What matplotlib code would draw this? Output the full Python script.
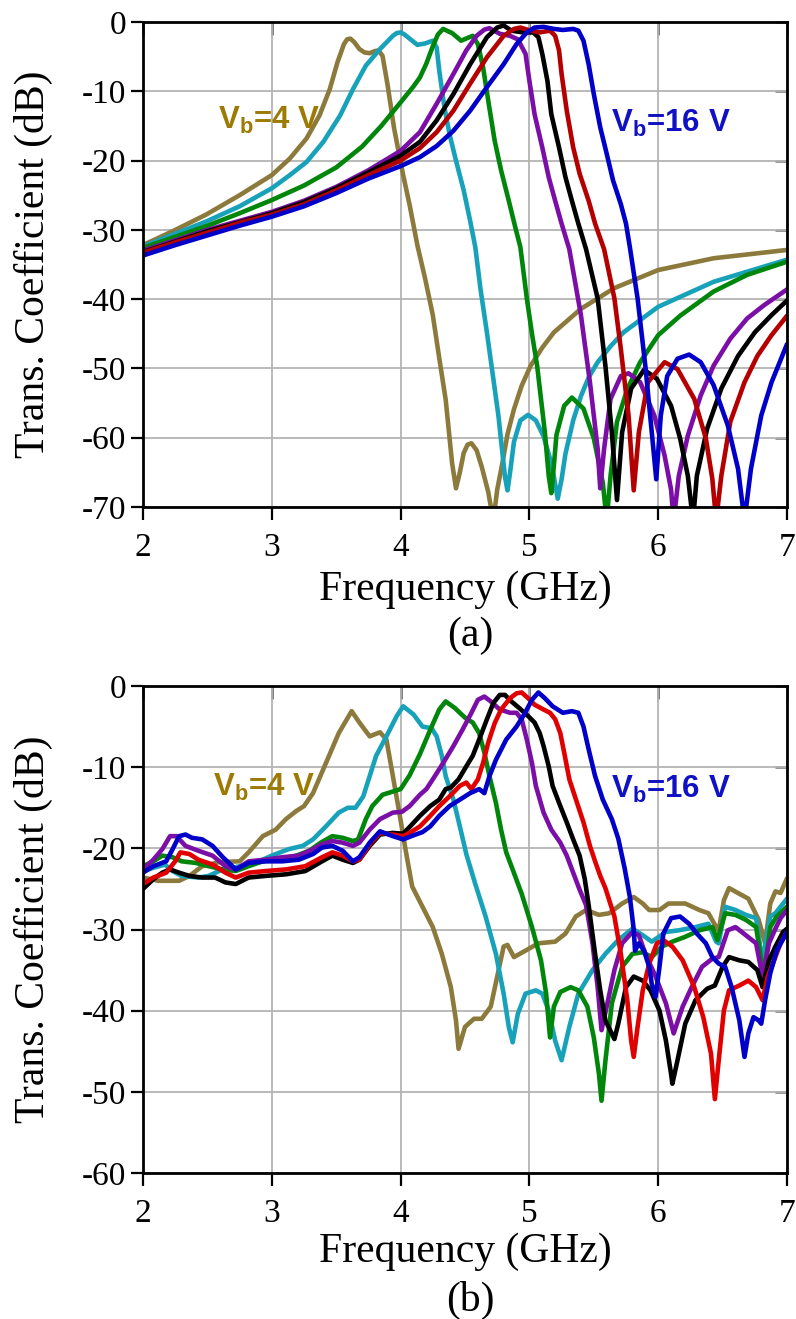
import matplotlib
matplotlib.use("Agg")
import matplotlib.pyplot as plt

# ---------------- (a) simulated transmission, Vb = 4 ... 16 V ----------------
a_f_4 = [2.0, 2.23, 2.49, 2.75, 3.0, 3.14, 3.27, 3.37, 3.45, 3.51, 3.56, 3.585, 3.61, 3.64, 3.68, 3.72, 3.76, 3.80,
         3.83, 3.86, 3.90, 3.95, 4.02, 4.07, 4.13, 4.19, 4.25, 4.30, 4.35, 4.40, 4.43, 4.46, 4.49, 4.52, 4.55,
         4.59, 4.63, 4.68, 4.72, 4.75, 4.79, 4.83, 4.88, 4.94, 5.01, 5.10, 5.19, 5.40, 5.66, 6.0, 6.43, 7.0]
a_s_4 = [-32.2, -30.2, -27.8, -25.0, -22.1, -19.7, -16.8, -13.5, -9.7, -5.8, -3.2, -2.5, -2.4, -2.9, -3.9, -4.4, -4.5, -4.2,
         -4.1, -4.9, -9.2, -15.4, -22.1, -26.4, -32.2, -37.0, -42.3, -48.5, -54.5, -63.7, -67.3, -65.0, -62.2, -61.0, -60.8,
         -61.8, -64.2, -67.8, -72.0, -67.5, -63.7, -59.5, -55.9, -52.5, -49.6, -47.0, -44.8, -41.4, -38.4, -35.8, -34.1, -32.9]

a_f_6 = [2.0, 2.23, 2.49, 2.75, 3.0, 3.14, 3.27, 3.40, 3.53, 3.63, 3.73, 3.84, 3.94, 3.97, 4.0, 4.03, 4.07, 4.13,
         4.19, 4.25, 4.28, 4.30, 4.34, 4.38, 4.43, 4.49, 4.54, 4.58, 4.62, 4.67, 4.72, 4.76, 4.81, 4.83,
         4.85, 4.88, 4.93, 4.99, 5.05, 5.11, 5.16, 5.19, 5.22, 5.25, 5.28, 5.34, 5.40, 5.46, 5.53, 5.63, 5.73, 6.0,
         6.43, 7.0]
a_s_6 = [-32.4, -30.7, -28.8, -26.6, -24.0, -22.1, -20.2, -17.3, -13.5, -9.7, -6.3, -3.9, -2.0, -1.6, -1.5, -1.8, -2.4, -3.3,
         -3.1, -2.7, -3.7, -7.0, -12.3, -16.2, -20.0, -24.3, -28.7, -32.5, -38.5, -44.8, -51.5, -56.9, -65.6, -67.6,
         -65.0, -60.6, -57.5, -56.7, -57.5, -59.8, -63.0, -65.6, -68.8, -66.0, -62.3, -57.5, -54.0, -51.3, -49.1, -46.8, -44.8, -41.1,
         -37.5, -34.3]

a_f_8 = [2.0, 2.25, 2.5, 2.75, 3.0, 3.25, 3.5, 3.7, 3.85, 4.0, 4.1, 4.15, 4.2, 4.25, 4.29, 4.33,
         4.40, 4.47, 4.52, 4.56, 4.60, 4.64, 4.68, 4.73, 4.78, 4.84, 4.89, 4.93, 4.98, 5.02, 5.06, 5.12,
         5.15, 5.17, 5.19, 5.21, 5.27, 5.33, 5.42, 5.50, 5.57, 5.60, 5.63, 5.68, 5.76, 5.86, 6.0, 6.17,
         6.43, 6.69, 7.0]
a_s_8 = [-32.6, -31.0, -29.4, -27.6, -25.7, -23.6, -21.0, -18.0, -15.0, -11.6, -9.3, -8.0, -6.0, -3.5, -1.8, -1.0,
         -1.6, -2.7, -2.3, -2.0, -3.2, -6.5, -11.3, -17.1, -21.4, -25.8, -29.6, -32.5, -39.9, -45.0, -49.6, -59.2,
         -65.5, -68.0, -64.0, -59.6, -55.4, -54.2, -55.8, -60.1, -66.5, -72.0, -65.5, -57.7, -53.0, -49.1, -45.2, -42.4,
         -38.9, -36.5, -34.6]

a_f_10 = [2.0, 2.25, 2.5, 2.75, 3.0, 3.25, 3.5, 3.75, 4.0, 4.15, 4.28, 4.41, 4.51, 4.59, 4.65, 4.69,
          4.77, 4.85, 4.91, 4.97, 5.0, 5.04, 5.10, 5.15, 5.20, 5.25, 5.31, 5.40, 5.47, 5.53, 5.55, 5.58,
          5.63, 5.71, 5.77, 5.86, 5.97, 6.05, 6.10, 6.12, 6.16, 6.23, 6.33, 6.43, 6.56, 6.69, 6.82, 7.0]
a_s_10 = [-33.0, -31.5, -30.0, -28.7, -27.4, -25.8, -23.8, -21.4, -18.6, -15.9, -11.8, -7.5, -4.1, -2.0, -1.1, -0.9,
          -1.7, -2.0, -2.5, -4.6, -8.5, -13.3, -18.1, -22.4, -25.8, -29.1, -32.8, -42.3, -52.0, -61.6, -67.3, -61.6,
          -54.4, -51.1, -50.7, -52.0, -56.8, -62.6, -67.5, -72.0, -65.5, -59.7, -53.9, -49.6, -45.7, -42.8, -40.9, -38.6]

a_f_12 = [2.0, 2.25, 2.5, 2.75, 3.0, 3.25, 3.5, 3.75, 4.0, 4.15, 4.28, 4.41, 4.54, 4.67, 4.75, 4.80,
          4.86, 4.95, 5.03, 5.07, 5.10, 5.14, 5.17, 5.23, 5.28, 5.33, 5.38, 5.44, 5.53, 5.59, 5.64, 5.68,
          5.72, 5.79, 5.89, 5.99, 6.10, 6.17, 6.23, 6.27, 6.30, 6.38, 6.49, 6.62, 6.75, 6.88, 7.0]
a_s_12 = [-33.2, -31.7, -30.2, -28.9, -27.6, -26.0, -24.0, -21.7, -19.3, -17.3, -14.2, -10.4, -6.1, -2.2, -0.8, -0.5,
          -1.25, -1.5, -1.5, -2.2, -4.6, -8.5, -13.3, -18.1, -22.4, -25.8, -29.1, -32.8, -39.9, -49.6, -59.2, -69.0,
          -59.2, -52.9, -50.2, -51.5, -55.4, -60.1, -65.5, -72.0, -65.5, -58.7, -52.9, -48.2, -44.8, -42.3, -40.2]

a_f_14 = [2.0, 2.25, 2.5, 2.75, 3.0, 3.25, 3.5, 3.75, 4.0, 4.15, 4.28, 4.41, 4.54, 4.67, 4.80, 4.88,
          4.93, 5.0, 5.08, 5.16, 5.20, 5.23, 5.25, 5.29, 5.34, 5.39, 5.46, 5.51, 5.58, 5.66, 5.71, 5.77,
          5.81, 5.85, 5.92, 6.05, 6.15, 6.28, 6.37, 6.42, 6.45, 6.49, 6.56, 6.67, 6.77, 6.88, 7.0]
a_s_14 = [-33.3, -31.8, -30.4, -29.0, -27.8, -26.3, -24.3, -22.1, -20.0, -18.2, -15.9, -12.8, -8.9, -5.1, -2.0, -1.0,
          -0.8, -1.2, -1.5, -1.25, -2.0, -4.1, -7.5, -12.8, -18.1, -21.9, -25.8, -29.1, -32.8, -39.9, -47.2, -56.8,
          -67.6, -59.2, -52.0, -49.1, -50.1, -54.4, -60.1, -65.9, -72.0, -65.5, -57.7, -52.0, -48.2, -45.2, -42.4]

a_f_16 = [2.0, 2.25, 2.5, 2.75, 3.0, 3.25, 3.5, 3.75, 4.0, 4.15, 4.28, 4.41, 4.54, 4.67, 4.80, 4.90,
          4.98, 5.04, 5.11, 5.19, 5.26, 5.34, 5.38, 5.42, 5.46, 5.50, 5.55, 5.60, 5.65, 5.71, 5.75, 5.78,
          5.84, 5.90, 5.95, 5.985, 6.02, 6.07, 6.15, 6.24, 6.33, 6.43, 6.54, 6.62, 6.67, 6.72, 6.80, 6.88,
          7.0]
a_s_16 = [-33.7, -32.2, -30.8, -29.4, -28.1, -26.6, -24.7, -22.6, -20.8, -19.5, -17.9, -15.7, -12.8, -9.4, -6.1, -3.2,
          -1.5, -0.8, -0.7, -1.0, -1.15, -1.0, -1.25, -2.7, -6.1, -10.4, -15.2, -19.0, -22.9, -26.3, -29.1, -32.5,
          -39.9, -49.6, -59.2, -66.0, -56.8, -51.1, -48.6, -48.0, -49.1, -52.4, -58.2, -64.5, -72.0, -64.5, -56.8, -52.0,
          -46.5]

# ---------------- (b) measured transmission ----------------
b_f_4 = [2.0, 2.12, 2.28, 2.36, 2.46, 2.59, 2.75, 2.82, 2.93, 3.03, 3.11, 3.19, 3.25, 3.32, 3.42, 3.52,
         3.62, 3.68, 3.76, 3.84, 3.89, 3.94, 3.99, 4.04, 4.09, 4.17, 4.25, 4.32, 4.39, 4.43, 4.45, 4.50,
         4.57, 4.63, 4.70, 4.75, 4.80, 4.83, 4.88, 4.97, 5.07, 5.20, 5.28, 5.36, 5.44, 5.54, 5.62, 5.72,
         5.81, 5.88, 5.93, 6.01, 6.08, 6.21, 6.32, 6.39, 6.45, 6.47, 6.51, 6.55, 6.63, 6.70, 6.78, 6.83,
         6.87, 6.91, 6.95, 7.0]
b_s_4 = [-23.6, -24.0, -24.0, -23.4, -22.2, -21.7, -21.6, -20.5, -18.5, -17.7, -16.4, -15.4, -14.8, -13.2, -9.5, -5.8,
         -3.1, -4.5, -6.2, -5.7, -6.6, -11.1, -15.6, -20.3, -24.7, -27.2, -29.7, -33.0, -37.1, -41.2, -44.7, -42.0,
         -41.0, -41.0, -39.5, -35.8, -32.1, -31.9, -33.4, -32.6, -31.7, -31.5, -30.5, -28.4, -27.6, -28.2, -28.0, -26.8,
         -26.0, -26.8, -27.6, -27.6, -26.8, -26.8, -27.6, -28.0, -29.7, -30.1, -26.4, -24.9, -25.6, -26.2, -28.8, -31.7,
         -26.8, -25.3, -25.5, -23.7]

b_f_6 = [2.0, 2.08, 2.17, 2.23, 2.30, 2.43, 2.51, 2.59, 2.75, 2.90, 3.0, 3.13, 3.24, 3.32, 3.42, 3.52,
         3.59, 3.65, 3.71, 3.76, 3.81, 3.89, 3.97, 4.02, 4.10, 4.17, 4.24, 4.28, 4.32, 4.35, 4.41, 4.46,
         4.51, 4.58, 4.66, 4.74, 4.80, 4.84, 4.87, 4.91, 4.97, 5.05, 5.10, 5.15, 5.20, 5.25, 5.31, 5.38,
         5.49, 5.59, 5.69, 5.80, 5.88, 5.95, 6.06, 6.16, 6.29, 6.39, 6.45, 6.47, 6.52, 6.60, 6.68, 6.76,
         6.81, 6.87, 6.91, 6.95, 7.0]
b_s_6 = [-22.8, -22.4, -22.0, -22.8, -23.4, -23.6, -23.4, -22.8, -22.2, -21.6, -20.9, -20.1, -19.7, -18.9, -17.3, -15.6,
         -15.0, -15.0, -13.6, -11.1, -8.6, -6.2, -3.7, -2.5, -3.5, -5.0, -5.2, -6.2, -8.6, -11.1, -14.0, -17.3,
         -20.7, -24.4, -28.4, -33.0, -37.9, -42.0, -43.9, -40.4, -37.9, -37.5, -37.9, -40.0, -43.7, -46.1, -42.0, -37.9,
         -35.0, -33.0, -31.3, -29.9, -30.7, -31.5, -30.3, -30.1, -29.7, -29.3, -31.5, -31.7, -27.2, -27.6, -28.2, -28.6,
         -34.0, -28.4, -28.0, -27.2, -26.2]

b_f_8 = [2.0, 2.08, 2.15, 2.23, 2.30, 2.41, 2.51, 2.62, 2.72, 2.82, 2.93, 3.06, 3.19, 3.29, 3.38, 3.47,
         3.55, 3.63, 3.67, 3.73, 3.78, 3.86, 3.94, 4.0, 4.07, 4.15, 4.23, 4.30, 4.35, 4.42, 4.50, 4.56,
         4.61, 4.65, 4.69, 4.74, 4.78, 4.82, 4.87, 4.94, 5.02, 5.09, 5.13, 5.16, 5.19, 5.24, 5.32, 5.38,
         5.45, 5.50, 5.54, 5.56, 5.59, 5.64, 5.72, 5.80, 5.88, 5.95, 6.03, 6.11, 6.21, 6.32, 6.42, 6.46,
         6.52, 6.60, 6.68, 6.76, 6.82, 6.87, 6.92, 7.0]
b_s_8 = [-22.2, -21.6, -20.9, -21.1, -21.6, -21.8, -22.2, -22.6, -22.8, -22.2, -21.6, -21.4, -20.9, -20.3, -19.3, -18.5,
         -18.7, -19.1, -18.9, -16.4, -14.8, -13.4, -13.0, -12.7, -11.0, -8.4, -5.4, -2.9, -1.9, -2.7, -3.9, -4.5,
         -5.8, -8.2, -11.1, -14.4, -17.7, -20.5, -22.6, -25.6, -29.7, -33.8, -37.9, -43.3, -39.5, -37.7, -37.1, -37.5,
         -39.5, -43.3, -47.8, -51.1, -46.2, -39.1, -34.6, -33.0, -32.8, -33.4, -32.1, -31.5, -30.9, -30.1, -29.7, -31.3,
         -28.0, -28.2, -28.8, -29.7, -35.8, -29.7, -28.4, -27.2]

b_f_10 = [2.0, 2.08, 2.15, 2.21, 2.26, 2.33, 2.43, 2.54, 2.64, 2.72, 2.82, 2.95, 3.08, 3.21, 3.32, 3.39,
          3.47, 3.55, 3.63, 3.68, 3.76, 3.84, 3.94, 4.01, 4.07, 4.15, 4.20, 4.25, 4.33, 4.41, 4.48, 4.55,
          4.60, 4.65, 4.70, 4.77, 4.85, 4.90, 4.94, 4.98, 5.02, 5.05, 5.11, 5.17, 5.24, 5.29, 5.34, 5.39,
          5.44, 5.49, 5.53, 5.56, 5.60, 5.66, 5.72, 5.80, 5.85, 5.90, 5.98, 6.06, 6.12, 6.19, 6.26, 6.34,
          6.42, 6.47, 6.54, 6.60, 6.68, 6.76, 6.81, 6.86, 6.91, 6.95, 7.0]
b_s_10 = [-22.6, -21.4, -20.1, -18.5, -18.5, -19.7, -20.3, -20.9, -22.2, -22.6, -21.6, -21.4, -21.1, -20.9, -20.1, -19.5,
          -19.1, -19.3, -19.7, -19.3, -17.7, -16.4, -15.6, -15.5, -14.8, -13.4, -12.7, -11.5, -9.5, -7.4, -5.4, -3.3,
          -1.7, -1.3, -1.9, -2.9, -3.3, -3.3, -4.1, -6.6, -9.5, -12.3, -15.6, -17.7, -19.3, -20.9, -23.0, -25.1,
          -27.0, -31.7, -37.1, -42.4, -39.5, -35.0, -31.7, -30.3, -30.7, -33.0, -35.8, -39.1, -42.8, -39.5, -37.1, -34.6,
          -33.6, -33.4, -30.1, -29.7, -30.7, -31.7, -35.8, -31.7, -29.9, -28.6, -27.6]

b_f_12 = [2.0, 2.08, 2.15, 2.21, 2.28, 2.36, 2.46, 2.56, 2.64, 2.72, 2.82, 2.95, 3.11, 3.26, 3.39, 3.47,
          3.55, 3.63, 3.68, 3.76, 3.84, 3.94, 4.02, 4.08, 4.15, 4.23, 4.30, 4.35, 4.39, 4.45, 4.51, 4.56,
          4.61, 4.67, 4.72, 4.77, 4.81, 4.86, 4.92, 4.99, 5.04, 5.08, 5.11, 5.15, 5.18, 5.24, 5.29, 5.34,
          5.39, 5.43, 5.46, 5.51, 5.55, 5.59, 5.66, 5.69, 5.75, 5.81, 5.88, 5.94, 6.01, 6.06, 6.10, 6.11,
          6.15, 6.21, 6.29, 6.38, 6.44, 6.50, 6.55, 6.63, 6.70, 6.77, 6.81, 6.86, 6.91, 6.97, 7.0]
b_s_12 = [-25.0, -23.8, -23.0, -22.6, -23.0, -23.4, -23.6, -23.6, -24.2, -24.4, -23.6, -23.4, -23.2, -22.8, -21.6, -20.9,
          -21.4, -21.8, -21.4, -19.7, -18.3, -18.1, -18.2, -17.2, -16.0, -14.8, -14.0, -12.7, -12.5, -11.5, -9.9, -8.6,
          -6.6, -4.1, -2.1, -1.1, -1.1, -1.9, -2.7, -3.7, -4.5, -5.8, -7.4, -9.9, -12.3, -14.8, -16.8, -18.9,
          -20.9, -23.8, -27.0, -33.0, -37.5, -41.2, -43.5, -41.6, -37.1, -35.8, -36.3, -37.5, -40.0, -43.7, -47.8, -49.0,
          -46.1, -41.6, -38.7, -37.3, -36.9, -34.6, -33.4, -33.8, -34.0, -35.0, -37.1, -33.8, -32.1, -30.3, -29.9]

b_f_14 = [2.0, 2.08, 2.18, 2.25, 2.29, 2.36, 2.43, 2.54, 2.64, 2.72, 2.82, 2.95, 3.11, 3.26, 3.39, 3.47,
          3.55, 3.63, 3.68, 3.76, 3.84, 3.94, 4.02, 4.08, 4.15, 4.23, 4.30, 4.38, 4.46, 4.51, 4.55, 4.60,
          4.64, 4.68, 4.73, 4.78, 4.85, 4.90, 4.94, 4.99, 5.04, 5.11, 5.16, 5.20, 5.24, 5.27, 5.31, 5.37,
          5.42, 5.47, 5.51, 5.55, 5.59, 5.66, 5.71, 5.76, 5.79, 5.81, 5.84, 5.88, 5.93, 5.99, 6.04, 6.11,
          6.19, 6.28, 6.35, 6.41, 6.44, 6.47, 6.51, 6.55, 6.63, 6.70, 6.76, 6.81, 6.85, 6.90, 6.95, 7.0]
b_s_14 = [-24.4, -23.6, -23.0, -21.6, -20.5, -20.7, -21.4, -22.0, -23.0, -23.6, -23.0, -22.8, -22.6, -22.2, -21.1, -20.5,
          -20.9, -21.6, -21.4, -19.5, -18.1, -18.3, -18.5, -18.0, -17.3, -16.0, -14.8, -13.6, -12.3, -11.9, -12.7, -11.5,
          -9.5, -7.0, -4.6, -2.9, -1.5, -0.9, -0.8, -1.5, -2.3, -2.9, -3.3, -4.1, -5.8, -8.2, -11.5, -14.4,
          -16.8, -19.7, -21.6, -23.4, -24.9, -28.4, -33.0, -38.7, -43.7, -45.7, -42.0, -37.5, -34.2, -31.7, -31.3, -32.1,
          -33.8, -37.1, -40.8, -45.3, -50.9, -46.1, -40.0, -37.5, -36.9, -36.3, -37.1, -38.7, -35.8, -33.8, -31.7, -30.3]

b_f_16 = [2.0, 2.08, 2.18, 2.23, 2.28, 2.33, 2.38, 2.46, 2.54, 2.62, 2.72, 2.82, 2.95, 3.08, 3.21, 3.32,
          3.39, 3.47, 3.55, 3.63, 3.68, 3.76, 3.84, 3.94, 4.02, 4.10, 4.17, 4.23, 4.30, 4.38, 4.46, 4.54,
          4.61, 4.65, 4.69, 4.74, 4.82, 4.90, 4.96, 5.02, 5.07, 5.12, 5.18, 5.26, 5.33, 5.38, 5.42, 5.46,
          5.51, 5.57, 5.64, 5.69, 5.74, 5.78, 5.81, 5.82, 5.85, 5.89, 5.93, 5.95, 5.98, 6.01, 6.04, 6.10,
          6.17, 6.24, 6.30, 6.37, 6.42, 6.47, 6.52, 6.57, 6.63, 6.67, 6.70, 6.74, 6.78, 6.80, 6.83, 6.87,
          6.92, 7.0]
b_s_16 = [-23.0, -22.2, -21.6, -20.1, -18.5, -18.3, -18.7, -18.9, -19.7, -21.1, -22.6, -21.8, -21.6, -21.6, -21.4, -20.7,
          -19.9, -19.7, -20.3, -21.6, -21.1, -19.3, -17.9, -18.5, -18.9, -18.4, -18.0, -17.3, -16.0, -14.8, -14.0, -13.2,
          -12.7, -13.2, -11.1, -9.1, -6.6, -5.0, -3.5, -1.7, -0.8, -1.5, -2.5, -3.3, -3.1, -3.3, -5.0, -7.8,
          -11.1, -14.0, -16.4, -18.8, -22.5, -26.0, -30.0, -32.6, -31.7, -32.6, -34.6, -36.7, -38.3, -34.6, -30.5, -28.6,
          -28.4, -29.3, -30.5, -31.7, -33.4, -34.2, -34.6, -37.1, -41.2, -45.7, -42.8, -40.8, -41.2, -41.6, -38.7, -35.4,
          -32.6, -30.3]

x_ticks = [2, 3, 4, 5, 6, 7]
a_y_ticks = [0, -10, -20, -30, -40, -50, -60, -70]
b_y_ticks = [0, -10, -20, -30, -40, -50, -60]

olive, cyan, green, purple = "#8c7a3c", "#17a2ba", "#00860a", "#7a0ea6"
blue = "#0000c8"
a_colors = [olive, cyan, green, purple, "#000000", "#b40000", blue]
b_colors = [olive, cyan, green, purple, "#000000", "#e00000", blue]

a_curves = [(a_f_4, a_s_4), (a_f_6, a_s_6), (a_f_8, a_s_8), (a_f_10, a_s_10),
            (a_f_12, a_s_12), (a_f_14, a_s_14), (a_f_16, a_s_16)]
b_curves = [(b_f_4, b_s_4), (b_f_6, b_s_6), (b_f_8, b_s_8), (b_f_10, b_s_10),
            (b_f_12, b_s_12), (b_f_14, b_s_14), (b_f_16, b_s_16)]

plt.rcParams["font.family"] = ["Liberation Serif", "DejaVu Serif"]
plt.rcParams["mathtext.fontset"] = "custom"
plt.rcParams["mathtext.rm"] = "Liberation Sans:bold"
plt.rcParams["mathtext.bf"] = "Liberation Sans:bold"

W, H = 796, 1319
fig = plt.figure(figsize=(W / 100, H / 100), dpi=100)


def make_panel(top_px, bottom_px, curves, colors, yticks, tag, lab4, lab16, xlab_px, tag_px):
    ax = fig.add_axes([143 / W, 1 - bottom_px / H, (787 - 143) / W, (bottom_px - top_px) / H])
    for (f, s), c in zip(curves, colors):
        ax.plot(f, s, color=c, lw=3.3, solid_joinstyle="round", solid_capstyle="round")
    ax.set_xlim(2, 7)
    ax.set_ylim(min(yticks), 0)
    ax.set_xticks(x_ticks)
    ax.set_yticks(yticks)
    ax.set_yticklabels([str(v) for v in yticks])
    ax.grid(True, color="#b4b4b4", lw=1.3)
    ax.set_axisbelow(True)
    for sp in ax.spines.values():
        sp.set_linewidth(2.0)
        sp.set_color("black")
    ax.tick_params(direction="out", length=9, width=1.6, labelsize=24, colors="black")
    ax.tick_params(axis="y", pad=3)
    ax.tick_params(axis="x", pad=9)
    # inner ticks along the top and right edges
    sx = ax.secondary_xaxis("top")
    sx.set_xticks(x_ticks)
    sx.tick_params(direction="in", length=9, width=1.8, colors="#555555", labeltop=False)
    sy = ax.secondary_yaxis("right")
    sy.set_yticks(yticks)
    sy.tick_params(direction="in", length=9, width=1.8, colors="#777777", labelright=False)
    ax.text(lab4[0], lab4[1], r"V$_\mathbf{b}$=4 V", color="#9c7b05", fontsize=22.5,
            family="Liberation Sans", weight="bold", ha="left", va="baseline")
    ax.text(lab16[0], lab16[1], r"V$_\mathbf{b}$=16 V", color="#1010c4", fontsize=22.5,
            family="Liberation Sans", weight="bold", ha="left", va="baseline")
    fig.text(14 / W, 1 - (top_px + bottom_px) / 2 / H, "Trans. Coefficient (dB)", rotation=90,
             fontsize=30, ha="left", va="center")
    fig.text(465 / W, 1 - xlab_px / H, "Frequency (GHz)", fontsize=30, ha="center", va="center")
    fig.text(470 / W, 1 - tag_px / H, tag, fontsize=30, ha="center", va="center")
    return ax


make_panel(22, 507, a_curves, a_colors, a_y_ticks, "(a)", (2.58, -15.5), (5.63, -15.8), 590, 636)
make_panel(686, 1173, b_curves, b_colors, b_y_ticks, "(b)", (2.54, -13.5), (5.63, -13.8), 1252, 1300)

fig.savefig("out.png", dpi=100)
